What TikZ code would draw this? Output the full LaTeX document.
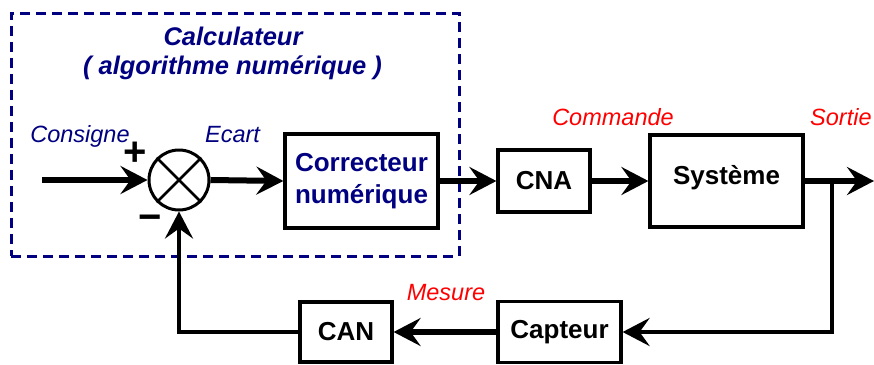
\documentclass[tikz,border=0pt]{standalone}
\usepackage{fontspec}
\setmainfont{Liberation Sans}
\usetikzlibrary{arrows.meta}
\definecolor{navy}{RGB}{0,0,128}
\definecolor{redt}{RGB}{255,0,0}
\begin{document}
\begin{tikzpicture}[x=1pt,y=-1pt,
  blk/.style={draw, line width=3.2pt, font=\fontsize{26}{32}\selectfont\bfseries, inner sep=0pt, align=center},
  sig/.style={font=\fontsize{23.5}{28}\selectfont\itshape, anchor=base, inner sep=0pt},
  ttl/.style={font=\fontsize{25.5}{30}\selectfont\bfseries\itshape, text=navy, anchor=base, inner sep=0pt},
  tip/.style={-{Stealth[length=27pt,width=28pt,inset=10pt]}},
  fwd/.style={line width=6pt, tip},
  fb/.style={line width=4.5pt},
  fbarr/.style={line width=4.5pt, tip},
]
\useasboundingbox (0,0) rectangle (874,364);

% calculator frame
\node[draw=navy, line width=3pt, dash pattern=on 10pt off 6pt, minimum width=448pt, minimum height=243pt, inner sep=0pt] (calc) at (235,134.5) {};
\node[ttl] (t1) at (233,45) {Calculateur};
\node[ttl] (t2) at (232.5,74) {( algorithme numérique )};

% blocks
\node[circle, draw, line width=3pt, minimum size=60pt, inner sep=0pt] (sum) at (179,180) {};
\draw[line width=2.5pt] (sum.north west) -- (sum.south east);
\draw[line width=2.5pt] (sum.north east) -- (sum.south west);

\node[blk, text=navy, minimum width=153pt, minimum height=94pt] (corr) at (361.5,181) {Correcteur\\numérique};
\node[blk, minimum width=92pt, minimum height=62pt] (cna) at (544,181) {CNA};
\node[blk, minimum width=153pt, minimum height=92pt, text height=19pt, text depth=13pt] (sys) at (726.5,181) {Système};
\node[blk, minimum width=123pt, minimum height=61pt] (capt) at (559.5,332) {Capteur};
\node[blk, minimum width=92pt, minimum height=60pt] (can) at (346,332) {CAN};

% signs
\node[font=\fontsize{40}{40}\selectfont\bfseries, inner sep=0pt] (plus) at (135,154) {+};
\node[font=\fontsize{40}{40}\selectfont\bfseries, inner sep=0pt] (minus) at (150,223) {−};

% signal labels
\node[sig, text=navy] (consigne) at (80,142) {Consigne};
\node[sig, text=navy] (ecart) at (232.5,142) {Ecart};
\node[sig, text=redt] (commande) at (613,125) {Commande};
\node[sig, text=redt, anchor=base west] (sortie) at (810,125) {Sortie};
\node[sig, text=redt] (mesure) at (446,300) {Mesure};

% connectors
\coordinate (in) at (42,180);
\coordinate (out) at (874,181);
\coordinate (br) at (832,181);
\draw[fwd] (in) -- (sum.west);
\draw[fwd] (sum.east) -- (corr.west);
\draw[fwd] (corr.east) -- (cna.west);
\draw[fwd] (cna.east) -- (sys.west);
\draw[fwd] (sys.east) -- (out);
\draw[fbarr] (br) |- (capt.east);
\draw[fwd] (capt.west) -- (can.east);
\draw[fbarr] (can.west) -| (sum.south);
\end{tikzpicture}
\end{document}
